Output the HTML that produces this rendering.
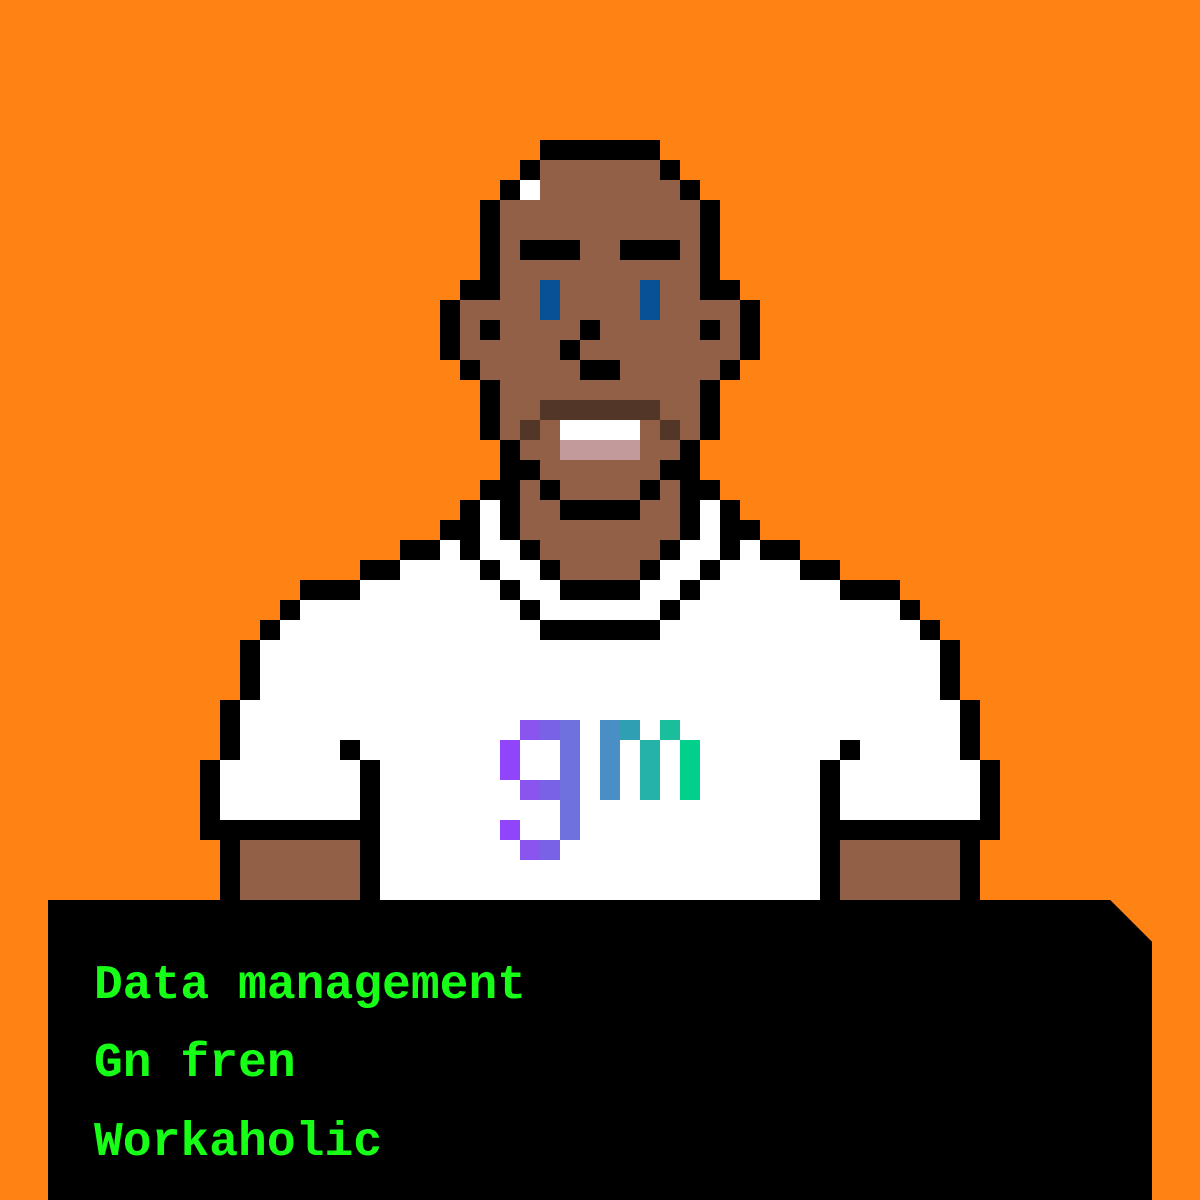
<!DOCTYPE html>
<html><head><meta charset="utf-8"><style>
html,body{margin:0;padding:0;background:#ff8214;}
svg{display:block}
text{font-family:"Liberation Mono",monospace;font-weight:bold;font-size:48px;fill:#17ff17}
</style></head><body>
<svg width="1200" height="1200" viewBox="0 0 1200 1200" shape-rendering="crispEdges">
<rect width="1200" height="1200" fill="#ff8214"/>
<g transform="scale(20)">
<!-- brown -->
<g fill="#916046">
<rect x="27" y="8" width="6" height="1"/>
<rect x="27" y="9" width="7" height="1"/>
<rect x="25" y="10" width="10" height="5"/>
<rect x="23" y="15" width="14" height="3"/>
<rect x="24" y="18" width="12" height="1"/>
<rect x="25" y="19" width="10" height="3"/>
<rect x="26" y="22" width="8" height="1"/>
<rect x="27" y="23" width="6" height="1"/>
<rect x="26" y="24" width="1" height="1"/>
<rect x="28" y="24" width="4" height="1"/>
<rect x="33" y="24" width="1" height="1"/>
<rect x="26" y="25" width="2" height="1"/>
<rect x="32" y="25" width="2" height="1"/>
<rect x="26" y="26" width="8" height="1"/>
<rect x="27" y="27" width="6" height="1"/>
<rect x="28" y="28" width="4" height="1"/>
<rect x="12" y="42" width="6" height="3"/>
<rect x="42" y="42" width="6" height="3"/>
</g>
<!-- white -->
<g fill="#ffffff">
<rect x="26" y="9" width="1" height="1"/>
<rect x="28" y="21" width="4" height="1"/>
<rect x="24" y="25" width="1" height="2"/>
<rect x="35" y="25" width="1" height="2"/>
<rect x="22" y="27" width="1" height="1"/>
<rect x="24" y="27" width="2" height="1"/>
<rect x="34" y="27" width="2" height="1"/>
<rect x="37" y="27" width="1" height="1"/>
<rect x="20" y="28" width="4" height="1"/>
<rect x="25" y="28" width="2" height="1"/>
<rect x="33" y="28" width="2" height="1"/>
<rect x="36" y="28" width="4" height="1"/>
<rect x="18" y="29" width="7" height="1"/>
<rect x="26" y="29" width="2" height="1"/>
<rect x="32" y="29" width="2" height="1"/>
<rect x="35" y="29" width="7" height="1"/>
<rect x="15" y="30" width="30" height="1"/>
<rect x="14" y="31" width="32" height="1"/>
<rect x="13" y="32" width="34" height="3"/>
<rect x="12" y="35" width="36" height="3"/>
<rect x="11" y="38" width="38" height="3"/>
<rect x="19" y="41" width="22" height="4"/>
</g>
<rect x="27" y="20" width="6" height="1" fill="#523628"/>
<rect x="26" y="21" width="1" height="1" fill="#523628"/>
<rect x="33" y="21" width="1" height="1" fill="#523628"/>
<rect x="28" y="22" width="4" height="1" fill="#c39a9c"/>
<rect x="27" y="14" width="1" height="2" fill="#085197"/>
<rect x="32" y="14" width="1" height="2" fill="#085197"/>
<!-- black -->
<g fill="#000">
<rect x="27" y="7" width="6" height="1"/>
<rect x="26" y="8" width="1" height="1"/><rect x="33" y="8" width="1" height="1"/>
<rect x="25" y="9" width="1" height="1"/><rect x="34" y="9" width="1" height="1"/>
<rect x="24" y="10" width="1" height="4"/><rect x="35" y="10" width="1" height="4"/>
<rect x="26" y="12" width="3" height="1"/><rect x="31" y="12" width="3" height="1"/>
<rect x="23" y="14" width="2" height="1"/><rect x="35" y="14" width="2" height="1"/>
<rect x="22" y="15" width="1" height="3"/><rect x="37" y="15" width="1" height="3"/>
<rect x="24" y="16" width="1" height="1"/><rect x="29" y="16" width="1" height="1"/><rect x="35" y="16" width="1" height="1"/>
<rect x="28" y="17" width="1" height="1"/>
<rect x="23" y="18" width="1" height="1"/><rect x="29" y="18" width="2" height="1"/><rect x="36" y="18" width="1" height="1"/>
<rect x="24" y="19" width="1" height="3"/><rect x="35" y="19" width="1" height="3"/>
<rect x="25" y="22" width="1" height="1"/><rect x="34" y="22" width="1" height="1"/>
<rect x="25" y="23" width="2" height="1"/><rect x="33" y="23" width="2" height="1"/>
<rect x="24" y="24" width="2" height="1"/><rect x="27" y="24" width="1" height="1"/><rect x="32" y="24" width="1" height="1"/><rect x="34" y="24" width="2" height="1"/>
<rect x="23" y="25" width="1" height="1"/><rect x="25" y="25" width="1" height="1"/><rect x="28" y="25" width="4" height="1"/><rect x="34" y="25" width="1" height="1"/><rect x="36" y="25" width="1" height="1"/>
<rect x="22" y="26" width="2" height="1"/><rect x="25" y="26" width="1" height="1"/><rect x="34" y="26" width="1" height="1"/><rect x="36" y="26" width="2" height="1"/>
<rect x="20" y="27" width="2" height="1"/><rect x="23" y="27" width="1" height="1"/><rect x="26" y="27" width="1" height="1"/><rect x="33" y="27" width="1" height="1"/><rect x="36" y="27" width="1" height="1"/><rect x="38" y="27" width="2" height="1"/>
<rect x="18" y="28" width="2" height="1"/><rect x="24" y="28" width="1" height="1"/><rect x="27" y="28" width="1" height="1"/><rect x="32" y="28" width="1" height="1"/><rect x="35" y="28" width="1" height="1"/><rect x="40" y="28" width="2" height="1"/>
<rect x="15" y="29" width="3" height="1"/><rect x="25" y="29" width="1" height="1"/><rect x="28" y="29" width="4" height="1"/><rect x="34" y="29" width="1" height="1"/><rect x="42" y="29" width="3" height="1"/>
<rect x="14" y="30" width="1" height="1"/><rect x="26" y="30" width="1" height="1"/><rect x="33" y="30" width="1" height="1"/><rect x="45" y="30" width="1" height="1"/>
<rect x="13" y="31" width="1" height="1"/><rect x="27" y="31" width="6" height="1"/><rect x="46" y="31" width="1" height="1"/>
<rect x="12" y="32" width="1" height="3"/><rect x="47" y="32" width="1" height="3"/>
<rect x="11" y="35" width="1" height="3"/><rect x="48" y="35" width="1" height="3"/>
<rect x="17" y="37" width="1" height="1"/><rect x="42" y="37" width="1" height="1"/>
<rect x="10" y="38" width="1" height="3"/><rect x="18" y="38" width="1" height="3"/><rect x="41" y="38" width="1" height="3"/><rect x="49" y="38" width="1" height="3"/>
<rect x="10" y="41" width="9" height="1"/><rect x="41" y="41" width="9" height="1"/>
<rect x="11" y="42" width="1" height="3"/><rect x="18" y="42" width="1" height="3"/><rect x="41" y="42" width="1" height="3"/><rect x="48" y="42" width="1" height="3"/>
</g>
<!-- gm logo -->
<rect x="26" y="36" width="1" height="1" fill="#8a55ee"/>
<rect x="27" y="36" width="1" height="1" fill="#7a62e6"/>
<rect x="28" y="36" width="1" height="6" fill="#6f72de"/>
<rect x="25" y="37" width="1" height="2" fill="#9145fa"/>
<rect x="26" y="39" width="1" height="1" fill="#8a55ee"/>
<rect x="27" y="39" width="1" height="1" fill="#7a62e6"/>
<rect x="25" y="41" width="1" height="1" fill="#9145fa"/>
<rect x="26" y="42" width="1" height="1" fill="#8a55ee"/>
<rect x="27" y="42" width="1" height="1" fill="#7a62e6"/>
<rect x="30" y="36" width="1" height="4" fill="#4a8ec6"/>
<rect x="31" y="36" width="1" height="1" fill="#2fa0b4"/>
<rect x="32" y="37" width="1" height="3" fill="#25b2a8"/>
<rect x="33" y="36" width="1" height="1" fill="#1abd9c"/>
<rect x="34" y="37" width="1" height="3" fill="#00d08c"/>
</g>
<path d="M48 900 H1110 L1152 942 V1200 H48 Z" fill="#000"/>
<text x="94" y="998">Data management</text>
<text x="94" y="1076">Gn fren</text>
<text x="94" y="1155">Workaholic</text>
</svg>
</body></html>
